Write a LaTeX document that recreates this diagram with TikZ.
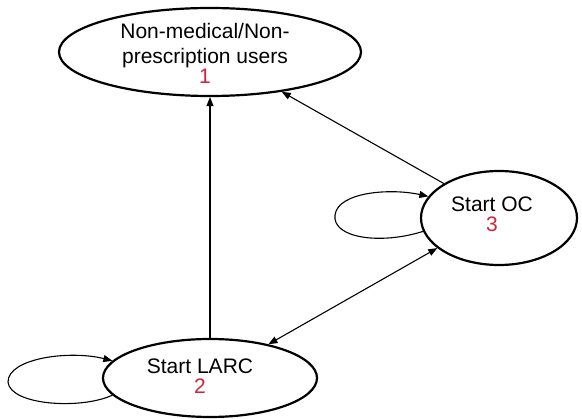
\documentclass[tikz,border=0pt]{standalone}
\usepackage{fontspec}
\setmainfont{Liberation Sans}
\usetikzlibrary{arrows.meta,shapes.geometric}
\definecolor{numred}{RGB}{204,37,61}
\tikzset{
  state/.style={draw, ellipse, line width=2.2pt, inner sep=0pt},
  lbl/.style={font=\fontsize{21}{25}\selectfont, align=center, inner sep=0pt},
  conn/.style={line width=1.1pt, -{Triangle[length=9pt,width=7pt]}},
  bconn/.style={line width=1.1pt, {Triangle[length=9pt,width=7pt]}-{Triangle[length=9pt,width=7pt]}},
}
\begin{document}
\begin{tikzpicture}[x=1pt,y=-1pt]
\useasboundingbox (0,0) rectangle (582,419);
\node[state, minimum width=302pt, minimum height=88pt] (n1) at (210,52) {};
\node[lbl] (t1) at (205,53) {Non-medical/Non-\\prescription users\\[-5pt]\textcolor{numred}{1}};
\node[state, minimum width=156pt, minimum height=94pt] (n3) at (499,218) {};
\node[lbl] (t3) at (492,214) {Start OC\\[-5pt]\textcolor{numred}{3}};
\node[state, minimum width=214pt, minimum height=78pt] (n2) at (210,378) {};
\node[lbl] (t2) at (200,376) {Start LARC\\[-5pt]\textcolor{numred}{2}};
% connectors
\draw[conn] (n2.north) -- (n1.south);
\draw[conn] (n3.148) -- (n1.-29);
\draw[bconn] (n3.206) -- (n2.30);
% self loops
\draw[conn] (n3.190) .. controls (380,245) and (332,238) .. (335,215) .. controls (338,192) and (390,188) .. (n3.163);
\draw[conn] (n2.190) .. controls (80,410) and (10,405) .. (8,382) .. controls (8,358) and (70,350) .. (n2.170);
\end{tikzpicture}
\end{document}
